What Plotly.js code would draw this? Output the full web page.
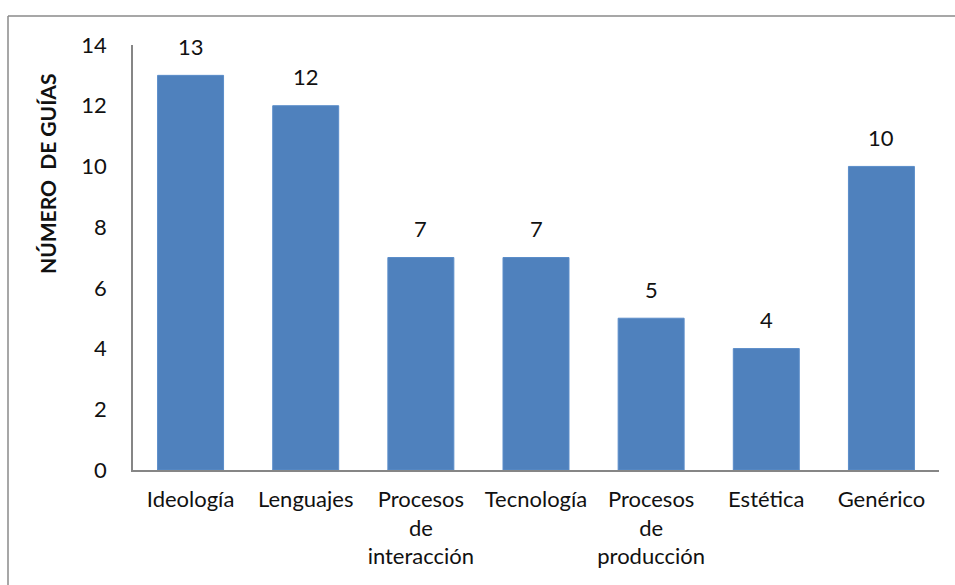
<!DOCTYPE html>
<html>
<head>
<meta charset="utf-8">
<script src="https://cdn.plot.ly/plotly-3.0.1.min.js"></script>
<style>
html,body{margin:0;padding:0;background:#fff;}
#chart{width:955px;height:585px;}
</style>
</head>
<body>
<div id="chart"></div>
<script>
const categories = ["Ideología", "Lenguajes", "Procesos<br>de<br>interacción", "Tecnología", "Procesos<br>de<br>producción", "Estética", "Genérico"];
const values = [13, 12, 7, 7, 5, 4, 10];
const yTickVals = [0, 2, 4, 6, 8, 10, 12, 14];
const yTitle = "NÚMERO  DE GUÍAS";

const FONT = "Lato, 'Open Sans', sans-serif";

const trace = {
  type: "bar",
  x: categories,
  y: values,
  marker: {color: "#4F81BD", line: {color: "#5B8DC9", width: 1}},
  hoverinfo: "x+y"
};

const labelAnnotations = categories.map((c, i) => ({
  x: c, y: values[i], xref: "x", yref: "y",
  text: String(values[i]), showarrow: false,
  yanchor: "middle", yshift: 29,
  font: {family: FONT, size: 22, color: "#111"}
}));

// frame (Excel chart area border) in paper coords
const L = 133, R = 939, T = 45, B = 470;
const px2x = p => (p - L) / (R - L);
const py2y = p => (B - p) / (B - T);

const layout = {
  width: 955, height: 585,
  margin: {l: L, r: 955 - R, t: T, b: 585 - B, pad: 0},
  paper_bgcolor: "#fff", plot_bgcolor: "#fff",
  showlegend: false,
  bargap: 0.427,
  font: {family: FONT, size: 22, color: "#111"},
  xaxis: {
    type: "category",
    showline: true, linecolor: "#868686", linewidth: 1.5,
    ticks: "", showgrid: false, zeroline: false,
    tickfont: {family: FONT, size: 22, color: "#111"},
    ticklabelstandoff: 9,
    automargin: false
  },
  yaxis: {
    range: [0, 14], tickvals: yTickVals, ticktext: yTickVals.map(String),
    showline: true, linecolor: "#868686", linewidth: 1.5,
    ticks: "", showgrid: false, zeroline: false,
    tickfont: {family: FONT, size: 22, color: "#111"},
    ticklabelstandoff: 20,
    automargin: false
  },
  annotations: labelAnnotations.concat([{
    xref: "paper", yref: "paper", x: px2x(47), y: py2y(174),
    text: "<b>" + yTitle + "</b>", showarrow: false, textangle: -90,
    xanchor: "center", yanchor: "middle",
    font: {family: FONT, size: 21, color: "#111"}
  }]),
  shapes: [
    {type: "line", xref: "paper", yref: "paper", x0: px2x(8), x1: px2x(956), y0: py2y(16), y1: py2y(16), line: {color: "#8a8a8a", width: 1.5}},
    {type: "line", xref: "paper", yref: "paper", x0: px2x(8), x1: px2x(8), y0: py2y(16), y1: py2y(586), line: {color: "#8a8a8a", width: 1.5}}
  ]
};

Plotly.newPlot("chart", [trace], layout, {displayModeBar: false, staticPlot: false});
</script>
</body>
</html>
